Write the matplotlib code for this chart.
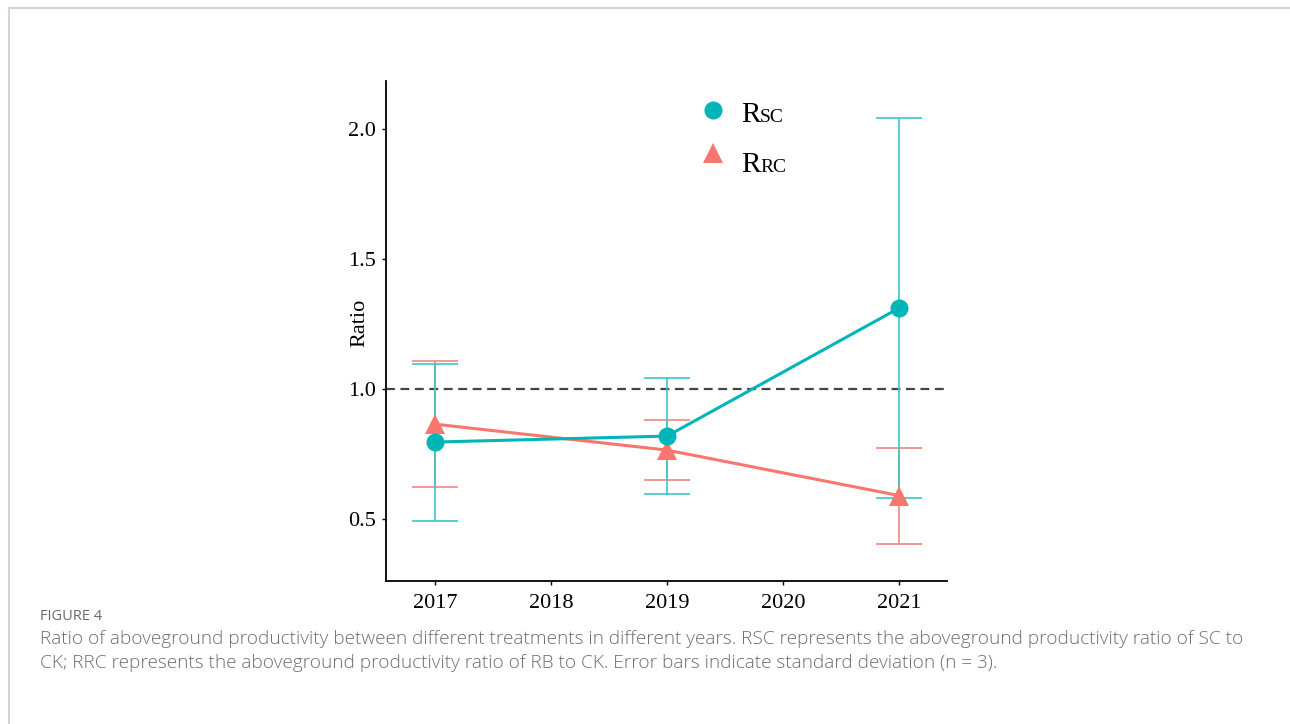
import matplotlib
matplotlib.use("Agg")
import matplotlib.pyplot as plt
from matplotlib.lines import Line2D
import numpy as np

years = [2017, 2019, 2021]
rsc_mean = [0.796, 0.819, 1.312]
rsc_sd = [0.302, 0.223, 0.731]
rrc_mean = [0.865, 0.765, 0.590]
rrc_sd = [0.243, 0.115, 0.185]
xticks = [2017, 2018, 2019, 2020, 2021]
yticks = [0.5, 1.0, 1.5, 2.0]

teal = "#00B5B8"
teal_err = "#3CC6CA"
red = "#F8766D"
red_err = "#EE8880"

W, H = 1290, 724
fig = plt.figure(figsize=(W / 100, H / 100), dpi=100)
ax = fig.add_axes([386 / W, 1 - 581 / H, 561 / W, 500 / H])

serif = "Liberation Serif"

# frame lines of the figure panel
fig.add_artist(Line2D([9 / W, 1], [1 - 8 / H, 1 - 8 / H], color="#d4d4d4", lw=1.5))
fig.add_artist(Line2D([9 / W, 9 / W], [0, 1 - 8 / H], color="#d4d4d4", lw=1.5))

ax.axhline(1.0, color="#444444", ls=(0, (4, 2.5)), lw=1.6, zorder=1)

ax.errorbar(years, rrc_mean, yerr=rrc_sd, fmt="none", ecolor=red_err,
            elinewidth=1.2, capsize=16.5, capthick=1.2, zorder=2)
ax.errorbar(years, rsc_mean, yerr=rsc_sd, fmt="none", ecolor=teal_err,
            elinewidth=1.2, capsize=16.5, capthick=1.2, zorder=2)
ax.plot(years, rsc_mean, color=teal, lw=2.2, marker="o", ms=13,
        markeredgewidth=0, zorder=4)
ax.plot(years, rrc_mean, color=red, lw=2.2, marker="^", ms=15,
        markeredgewidth=0, zorder=3)

ax.set_xlim(2016.58, 2021.41)
ax.set_ylim(0.2615, 2.185)
ax.set_xticks(xticks)
ax.set_xticklabels([str(x) for x in xticks])
ax.set_yticks(yticks)
ax.set_yticklabels([f"{y:.1f}" for y in yticks])
for lab in ax.get_xticklabels() + ax.get_yticklabels():
    lab.set_fontfamily(serif)
    lab.set_fontsize(16)
    lab.set_color("black")
ax.tick_params(axis="both", length=3, width=1, color="black", pad=4)
ax.tick_params(axis="x", pad=6)
for s in ["top", "right"]:
    ax.spines[s].set_visible(False)
for s in ["left", "bottom"]:
    ax.spines[s].set_linewidth(1.3)
    ax.spines[s].set_color("black")
ax.set_ylabel("Ratio", fontfamily=serif, fontsize=16)
ax.yaxis.set_label_coords(-0.047, 0.516)
ax.yaxis.label.set_va("center")
ax.yaxis.label.set_ha("center")

# legend
handles = [Line2D([], [], color=teal, marker="o", ms=13, ls="none", markeredgewidth=0),
           Line2D([], [], color=red, marker="^", ms=15, ls="none", markeredgewidth=0)]
leg = ax.legend(handles, ["", ""], loc="upper left", bbox_to_anchor=(0.547, 0.977),
                frameon=False, handlelength=1.0, labelspacing=1.03, borderaxespad=0,
                fontsize=16)
ax.text(0.634, 0.918, "R", transform=ax.transAxes, fontfamily=serif, fontsize=21,
        va="baseline", ha="left")
ax.text(0.667, 0.918, "SC", transform=ax.transAxes, fontfamily=serif, fontsize=14,
        va="baseline", ha="left")
ax.text(0.634, 0.818, "R", transform=ax.transAxes, fontfamily=serif, fontsize=21,
        va="baseline", ha="left")
ax.text(0.667, 0.818, "RC", transform=ax.transAxes, fontfamily=serif, fontsize=14,
        va="baseline", ha="left")

cap = "Open Sans"
fig.text(40 / W, 1 - 616 / H, "FIGURE 4", fontfamily=cap, fontsize=10.5, color="#6a6a6a",
         va="center", ha="left")
fig.text(40 / W, 1 - 639 / H,
         "Ratio of aboveground productivity between different treatments in different years. RSC represents the aboveground productivity ratio of SC to",
         fontfamily=cap, fontsize=13.7, fontweight="light", color="#6e6e6e",
         va="center", ha="left")
fig.text(40 / W, 1 - 663 / H,
         "CK; RRC represents the aboveground productivity ratio of RB to CK. Error bars indicate standard deviation (n = 3).",
         fontfamily=cap, fontsize=13.7, fontweight="light", color="#6e6e6e",
         va="center", ha="left")

fig.savefig("out.png", dpi=100)
